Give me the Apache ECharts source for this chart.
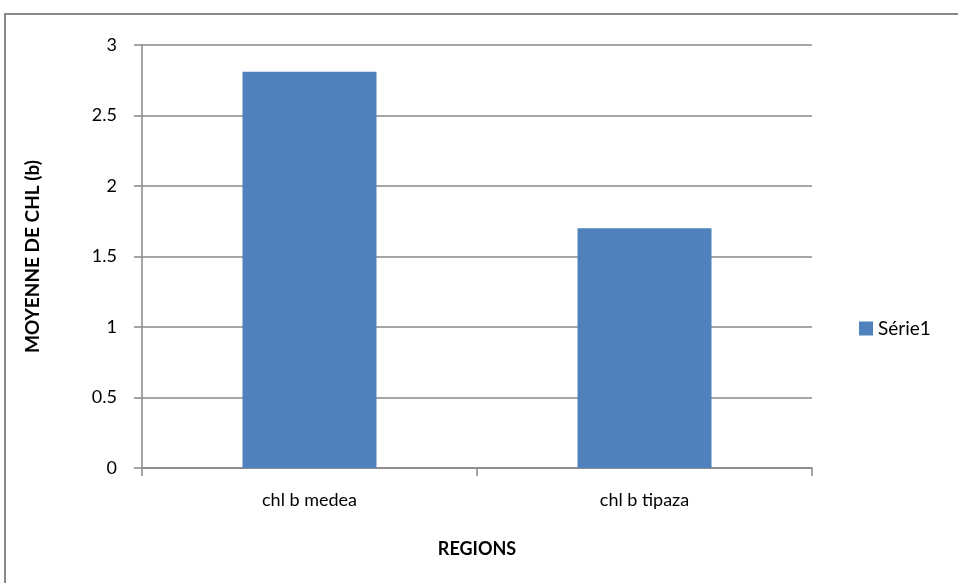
<!DOCTYPE html>
<html>
<head>
<meta charset="utf-8">
<script src="https://cdn.jsdelivr.net/npm/echarts@6/dist/echarts.min.js"></script>
<style>
html,body{margin:0;padding:0;background:#fff;}
#chart{width:958px;height:583px;}
</style>
</head>
<body>
<div id="chart"></div>
<script>
// Mean chlorophyll b per region
const categories = ['chl b medea', 'chl b tipaza'];
const serie1 = [2.81, 1.70];
const seriesName = 'Série1';
const yAxisTitle = 'MOYENNE DE CHL (b)';
const xAxisTitle = 'REGIONS';

const FONT = 'Lato, "Open Sans", sans-serif';
const GREY = '#888888';

const chart = echarts.init(document.getElementById('chart'));
chart.setOption({
  animation: false,
  backgroundColor: '#ffffff',
  textStyle: { fontFamily: FONT },
  graphic: [{
    type: 'rect',
    shape: { x: 5, y: 14, width: 1000, height: 1000 },
    style: { fill: 'none', stroke: GREY, lineWidth: 2 },
    silent: true
  }],
  grid: { left: 142, right: 146, top: 45, bottom: 115, containLabel: false },
  legend: {
    data: [seriesName],
    left: 854, top: 314,
    icon: 'rect', itemWidth: 14, itemHeight: 14, itemGap: 6,
    textStyle: { fontSize: 19, color: '#000', fontFamily: FONT }
  },
  xAxis: {
    type: 'category',
    data: categories,
    name: xAxisTitle,
    nameLocation: 'middle',
    nameGap: 72,
    nameTextStyle: { fontSize: 18, fontWeight: 'bold', color: '#000', fontFamily: FONT },
    axisLine: { lineStyle: { color: GREY, width: 1.5 } },
    axisTick: { show: true, length: 8, lineStyle: { color: GREY, width: 1.5 } },
    axisLabel: { fontSize: 18, color: '#000', margin: 23, fontFamily: FONT }
  },
  yAxis: {
    type: 'value',
    min: 0, max: 3, interval: 0.5,
    name: yAxisTitle,
    nameLocation: 'middle',
    nameGap: 100,
    nameRotate: 90,
    nameTextStyle: { fontSize: 19, fontWeight: 'bold', color: '#000', fontFamily: FONT },
    axisLine: { show: true, lineStyle: { color: GREY, width: 1.5 } },
    axisTick: { show: true, length: 8, lineStyle: { color: GREY, width: 1.5 } },
    axisLabel: { fontSize: 18, color: '#000', margin: 25, fontFamily: FONT },
    splitLine: { lineStyle: { color: GREY, width: 1.5 } }
  },
  series: [{
    name: seriesName,
    type: 'bar',
    data: serie1,
    barWidth: '40%',
    itemStyle: { color: '#4f81bd' }
  }]
});
</script>
</body>
</html>
